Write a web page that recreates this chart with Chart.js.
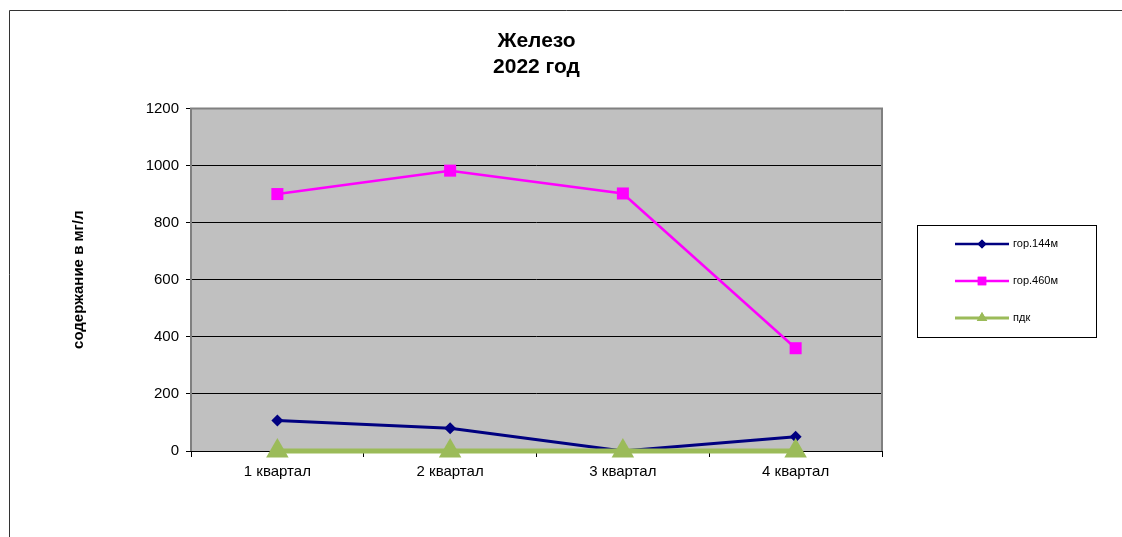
<!DOCTYPE html>
<html>
<head>
<meta charset="utf-8">
<script src="https://cdn.jsdelivr.net/npm/chart.js@4/dist/chart.umd.min.js"></script>
<style>
  html, body { margin: 0; padding: 0; background: #ffffff; }
  #wrap { width: 1122px; height: 537px; position: relative; }
</style>
</head>
<body>
<div id="wrap"><canvas id="myChart" width="1122" height="537"></canvas></div>
<script>
var quarters = ['1 квартал', '2 квартал', '3 квартал', '4 квартал'];
var seriesNames = ['гор.144м', 'гор.460м', 'пдк'];
var gor144 = [107, 80, 0, 50];
var gor460 = [900, 982, 902, 360];
var pdk = [0.3, 0.3, 0.3, 0.3];
var yTicks = [0, 200, 400, 600, 800, 1000, 1200];

Chart.defaults.font.family = '"Liberation Sans", Arial, sans-serif';
Chart.defaults.color = '#000000';

// grey plot background, thin outer frame
var backdrop = {
  id: 'backdrop',
  beforeDraw: function(chart) {
    var ctx = chart.ctx;
    var a = chart.chartArea;
    ctx.save();
    ctx.fillStyle = '#ffffff';
    ctx.fillRect(0, 0, chart.width, chart.height);
    ctx.strokeStyle = '#333333';
    ctx.lineWidth = 1;
    ctx.beginPath();
    ctx.moveTo(9.5, chart.height + 2);
    ctx.lineTo(9.5, 10.5);
    ctx.lineTo(chart.width + 2, 10.5);
    ctx.stroke();
    ctx.fillStyle = '#c0c0c0';
    ctx.fillRect(a.left, a.top, a.right - a.left, a.bottom - a.top);
    ctx.restore();
  },
  beforeDatasetsDraw: function(chart) {
    var ctx = chart.ctx;
    var a = chart.chartArea;
    ctx.save();
    ctx.strokeStyle = '#808080';
    ctx.lineWidth = 2;
    ctx.beginPath();
    ctx.moveTo(a.left, a.bottom);
    ctx.lineTo(a.left, a.top);
    ctx.lineTo(a.right, a.top);
    ctx.lineTo(a.right, a.bottom);
    ctx.stroke();
    ctx.strokeStyle = '#000000';
    ctx.lineWidth = 1;
    ctx.beginPath();
    ctx.moveTo(a.left, a.bottom + 0.5);
    ctx.lineTo(a.right, a.bottom + 0.5);
    ctx.stroke();
    ctx.restore();
  }
};

// legend in a framed box to the right, like the original
var boxLegend = {
  id: 'boxLegend',
  afterDraw: function(chart) {
    var ctx = chart.ctx;
    var x0 = 917, y0 = 225, w = 179, h = 112;
    ctx.save();
    ctx.fillStyle = '#ffffff';
    ctx.fillRect(x0, y0, w, h);
    ctx.strokeStyle = '#000000';
    ctx.lineWidth = 1;
    ctx.strokeRect(x0 + 0.5, y0 + 0.5, w, h);
    var rowY = [244, 281, 318];
    var sizes = [4.5, 6, 6];
    chart.data.datasets.forEach(function(ds, i) {
      var y = rowY[i];
      ctx.strokeStyle = ds.borderColor;
      ctx.lineWidth = i == 2 ? 3 : 2.5;
      ctx.beginPath();
      ctx.moveTo(955, y);
      ctx.lineTo(1009, y);
      ctx.stroke();
      ctx.fillStyle = ds.borderColor;
      Chart.helpers.drawPoint(ctx, {
        pointStyle: ds.pointStyle,
        radius: sizes[i],
        rotation: 0,
        borderWidth: 0
      }, 982, y);
      ctx.fill();
      ctx.fillStyle = '#000000';
      ctx.font = '11px "Liberation Sans", Arial, sans-serif';
      ctx.textBaseline = 'middle';
      ctx.fillText(ds.label, 1013, y);
    });
    ctx.restore();
  }
};

var chart = new Chart(document.getElementById('myChart'), {
  type: 'line',
  data: {
    labels: quarters,
    datasets: [
      {
        label: seriesNames[0],
        data: gor144,
        borderColor: '#000080',
        backgroundColor: '#000080',
        borderWidth: 3,
        pointStyle: 'rectRot',
        pointRadius: 6,
        pointBorderWidth: 0,
        clip: false,
        tension: 0
      },
      {
        label: seriesNames[1],
        data: gor460,
        borderColor: '#ff00ff',
        backgroundColor: '#ff00ff',
        borderWidth: 2.5,
        pointStyle: 'rect',
        pointRadius: 8.5,
        pointBorderWidth: 0,
        clip: false,
        tension: 0
      },
      {
        label: seriesNames[2],
        data: pdk,
        borderColor: '#9bbb59',
        backgroundColor: '#9bbb59',
        borderWidth: 5,
        pointStyle: 'triangle',
        pointRadius: 13,
        pointBorderWidth: 0,
        clip: false,
        order: -1,
        tension: 0
      }
    ]
  },
  options: {
    responsive: false,
    animation: false,
    events: [],  // no hover
    layout: {
      padding: { left: 70, right: 240, top: 21, bottom: 0 }
    },
    scales: {
      x: {
        offset: true,
        grid: {
          offset: true,
          drawOnChartArea: false,
          color: '#000000',
          tickLength: 6
        },
        border: { display: false },
        ticks: {
          padding: 6,
          font: { size: 15 }
        },
        afterFit: function(scale) { scale.height = 86; }
      },
      y: {
        min: 0,
        max: 1200,
        afterBuildTicks: function(scale) {
          scale.ticks = yTicks.map(function(v) { return { value: v }; });
        },
        grid: {
          color: '#000000',
          lineWidth: 1,
          tickLength: 5
        },
        border: { display: false },
        ticks: {
          padding: 7,
          font: { size: 15 },
          callback: function(value) { return String(value); }
        },
        title: {
          display: true,
          text: 'содержание в мг/л',
          font: { size: 15, weight: 'bold' },
          padding: { top: 0, bottom: 0 }
        },
        afterFit: function(scale) { scale.width = 191 - 70; }
      }
    },
    plugins: {
      legend: { display: false },
      tooltip: { enabled: false },
      title: {
        display: true,
        fullSize: false,
        text: ['Железо', '2022 год'],
        font: { size: 21, weight: 'bold' },
        lineHeight: 1.2,
        padding: { top: 8, bottom: 29 }
      }
    }
  },
  plugins: [backdrop, boxLegend]
});
</script>
</body>
</html>
